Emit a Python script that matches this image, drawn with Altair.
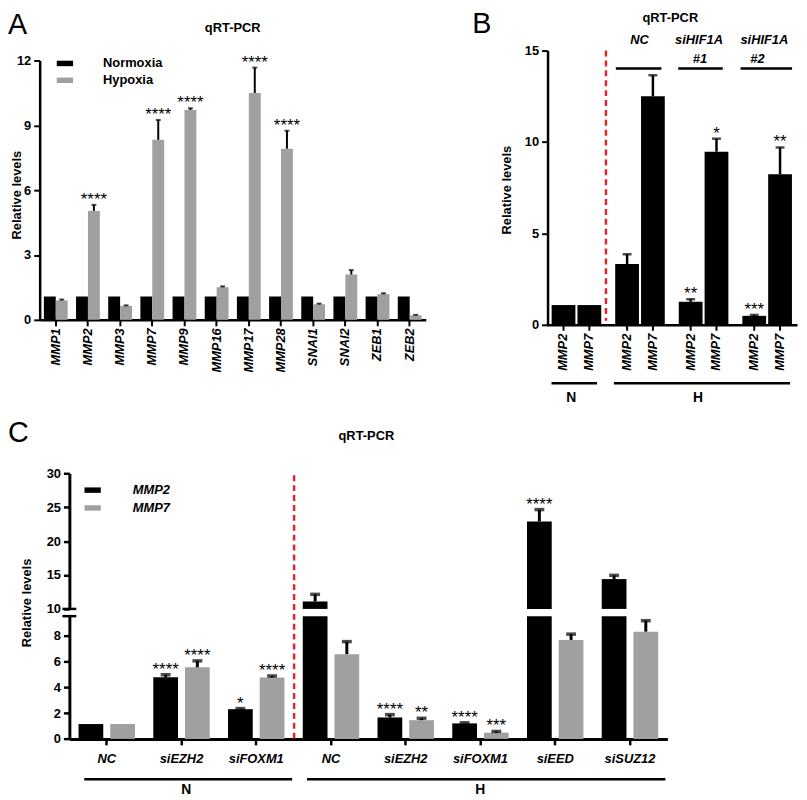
import altair as alt
import pandas as pd

FONT = "Liberation Sans"
BLACK = "#000000"
GRAY = "#a0a0a0"
RED = "#e3262d"
W, H = 799, 792

# ---------------- Panel A data ----------------
a_genes = ["MMP1", "MMP2", "MMP3", "MMP7", "MMP9", "MMP16", "MMP17", "MMP28", "SNAI1", "SNAI2", "ZEB1", "ZEB2"]
a_conditions = ["Normoxia", "Hypoxia"]
a_normoxia = [1.08, 1.08, 1.08, 1.08, 1.08, 1.08, 1.08, 1.08, 1.08, 1.08, 1.08, 1.08]
a_normoxia_err = [0, 0, 0, 0, 0, 0, 0, 0, 0, 0, 0, 0]
a_hypoxia = [0.90, 5.04, 0.64, 8.33, 9.71, 1.51, 10.50, 7.92, 0.72, 2.10, 1.19, 0.21]
a_hypoxia_err = [0.04, 0.28, 0.03, 0.92, 0.08, 0.04, 1.17, 0.83, 0.03, 0.20, 0.04, 0.02]
a_hypoxia_stars = ["", "****", "", "****", "****", "", "****", "****", "", "", "", ""]

# ---------------- Panel B data ----------------
b_groups = ["N", "NC", "siHIF1A #1", "siHIF1A #2"]
b_genes = ["MMP2", "MMP7"]
b_mmp2 = [1.08, 3.32, 1.26, 0.49]
b_mmp2_err = [0, 0.54, 0.14, 0.05]
b_mmp2_stars = ["", "", "**", "***"]
b_mmp7 = [1.08, 12.50, 9.47, 8.23]
b_mmp7_err = [0, 1.15, 0.71, 1.47]
b_mmp7_stars = ["", "", "*", "**"]

# ---------------- Panel C data ----------------
c_conditions = ["N", "N", "N", "H", "H", "H", "H", "H"]
c_sirnas = ["NC", "siEZH2", "siFOXM1", "NC", "siEZH2", "siFOXM1", "siEED", "siSUZ12"]
c_genes = ["MMP2", "MMP7"]
c_mmp2 = [1.15, 4.77, 2.30, 11.10, 1.66, 1.20, 22.90, 14.40]
c_mmp2_err = [0, 0.20, 0.05, 1.05, 0.22, 0.05, 1.75, 0.55]
c_mmp2_stars = ["", "****", "*", "", "****", "****", "****", ""]
c_mmp7 = [1.15, 5.54, 4.75, 6.56, 1.45, 0.48, 7.66, 8.30]
c_mmp7_err = [0, 0.50, 0.12, 0.97, 0.15, 0.10, 0.45, 0.85]
c_mmp7_stars = ["", "****", "****", "", "**", "***", "", ""]

# ---------------- tables ----------------
rows = []
for i, g in enumerate(a_genes):
    rows.append(dict(gene=g, cond="Normoxia", value=a_normoxia[i], err=a_normoxia_err[i], stars=""))
    rows.append(dict(gene=g, cond="Hypoxia", value=a_hypoxia[i], err=a_hypoxia_err[i], stars=a_hypoxia_stars[i]))
dfA = pd.DataFrame(rows)
dfA["top"] = dfA["value"] + dfA["err"]

rows = []
for i, grp in enumerate(b_groups):
    rows.append(dict(group=grp, gene="MMP2", value=b_mmp2[i], err=b_mmp2_err[i], stars=b_mmp2_stars[i]))
    rows.append(dict(group=grp, gene="MMP7", value=b_mmp7[i], err=b_mmp7_err[i], stars=b_mmp7_stars[i]))
dfB = pd.DataFrame(rows)
dfB["top"] = dfB["value"] + dfB["err"]

c_keys = [f"{c}|{s}" for c, s in zip(c_conditions, c_sirnas)]
rows = []
for i, k in enumerate(c_keys):
    rows.append(dict(key=k, gene="MMP2", value=c_mmp2[i], err=c_mmp2_err[i], stars=c_mmp2_stars[i]))
    rows.append(dict(key=k, gene="MMP7", value=c_mmp7[i], err=c_mmp7_err[i], stars=c_mmp7_stars[i]))
dfC = pd.DataFrame(rows)
dfC["top"] = dfC["value"] + dfC["err"]

LBL = 13
STAR = 17


def axis(**kw):
    base = dict(title=None, grid=False, domainColor=BLACK, tickColor=BLACK, labelColor=BLACK,
                labelFont=FONT, labelFontSize=LBL, labelFontWeight="bold")
    base.update(kw)
    return alt.Axis(**base)


RECT = "M-1.5,-0.5H1.5V0.5H-1.5Z"

# ---------------- Panel A ----------------
a_x = alt.X("gene:N", scale=alt.Scale(domain=a_genes, range=[32, 422], paddingInner=0.26, paddingOuter=0.13),
            axis=axis(orient="bottom", offset=311 - H, labelAngle=270, labelFontStyle="italic",
                      tickSize=6, tickWidth=2, domainWidth=2.5, labelPadding=2))
a_xo = alt.XOffset("cond:N", scale=alt.Scale(domain=a_conditions, paddingInner=0, paddingOuter=0))


def a_y(field):
    return alt.Y(f"{field}:Q", scale=alt.Scale(domain=[0, 12], range=[311, 49], nice=False),
                 axis=axis(orient="left", offset=-32, values=[0, 3, 6, 9, 12], tickSize=6, tickWidth=2,
                           domainWidth=2.5, labelPadding=3))


dA = alt.Chart(dfA)
a_bars = dA.mark_bar().encode(
    x=a_x, xOffset=a_xo, y=a_y("value"),
    color=alt.Color("cond:N", scale=alt.Scale(domain=a_conditions, range=[BLACK, GRAY]),
                    legend=alt.Legend(orient="none", legendX=51, legendY=45.5, title=None, direction="vertical",
                                      symbolType=RECT, symbolSize=121, symbolStrokeWidth=0, symbolOpacity=1,
                                      labelFont=FONT, labelFontSize=LBL, labelFontWeight="bold", labelColor=BLACK,
                                      labelOffset=32, rowPadding=3, padding=0)))
a_stem = dA.transform_filter("datum.err > 0").mark_rule(color=BLACK, strokeWidth=2).encode(
    x=a_x, xOffset=a_xo, y=a_y("value"), y2="top:Q")
a_cap = dA.transform_filter("datum.err > 0").mark_tick(orient="horizontal", color=BLACK, size=5, thickness=2).encode(
    x=a_x, xOffset=a_xo, y=a_y("top"))
a_star = dA.transform_filter("datum.stars != ''").mark_text(font=FONT, fontSize=STAR, baseline="alphabetic", dy=0,
                                                            color=BLACK).encode(
    x=a_x, xOffset=a_xo, y=a_y("top"), text="stars:N")
panelA = alt.layer(a_bars, a_stem, a_cap, a_star)

# ---------------- Panel B ----------------
b_x = alt.X("group:N", scale=alt.Scale(domain=b_groups, range=[544, 797], paddingInner=0.22, paddingOuter=0.08),
            axis=axis(orient="bottom", offset=316 - H, labels=False, ticks=False, domainWidth=2.5))
b_xo = alt.XOffset("gene:N", scale=alt.Scale(domain=b_genes, paddingInner=0.08, paddingOuter=0))


def b_y(field):
    return alt.Y(f"{field}:Q", scale=alt.Scale(domain=[0, 15], range=[316, 39], nice=False),
                 axis=axis(orient="left", offset=-545, values=[0, 5, 10, 15], tickSize=6, tickWidth=2,
                           domainWidth=2.5, labelPadding=3))


dB = alt.Chart(dfB)
b_bars = dB.mark_bar(color=BLACK).encode(x=b_x, xOffset=b_xo, y=b_y("value"))
b_stem = dB.transform_filter("datum.err > 0").mark_rule(color=BLACK, strokeWidth=2.5).encode(
    x=b_x, xOffset=b_xo, y=b_y("value"), y2="top:Q")
b_cap = dB.transform_filter("datum.err > 0").mark_tick(orient="horizontal", color=BLACK, size=9, thickness=2.5).encode(
    x=b_x, xOffset=b_xo, y=b_y("top"))
b_star = dB.transform_filter("datum.stars != ''").mark_text(font=FONT, fontSize=STAR, baseline="alphabetic", dy=0,
                                                            color=BLACK).encode(
    x=b_x, xOffset=b_xo, y=b_y("top"), text="stars:N")
b_ticks = dB.mark_rule(color=BLACK, strokeWidth=2).encode(x=b_x, xOffset=b_xo, y=alt.value(316), y2=alt.value(322))
b_labels = dB.mark_text(font=FONT, fontSize=LBL, fontWeight="bold", fontStyle="italic", angle=270, align="right",
                        baseline="middle", color=BLACK).encode(x=b_x, xOffset=b_xo, y=alt.value(325), text="gene:N")
panelB = alt.layer(b_bars, b_stem, b_cap, b_star, b_ticks, b_labels)

# ---------------- Panel C ----------------
c_x = alt.X("key:N", scale=alt.Scale(domain=c_keys, range=[62, 666], paddingInner=0.245, paddingOuter=0.1225),
            axis=axis(orient="bottom", offset=734.3 - H, labelExpr="slice(datum.label, 2)", labelAngle=0,
                      labelFontStyle="italic", tickSize=6, tickWidth=2.5, domainWidth=3, labelPadding=8))
c_xo = alt.XOffset("gene:N", scale=alt.Scale(domain=c_genes, paddingInner=0.22, paddingOuter=0))


def c_ylo(field):
    return alt.Y(f"{field}:Q", scale=alt.Scale(domain=[0, 9.5], range=[734.3, 610.3], nice=False, clamp=True),
                 axis=axis(orient="left", offset=-62, values=[0, 2, 4, 6, 8], tickSize=6, tickWidth=2.5,
                           domainWidth=3, labelPadding=3))


def c_yup(field):
    return alt.Y(f"{field}:Q", scale=alt.Scale(domain=[10, 30], range=[603, 466], nice=False, zero=False),
                 axis=axis(orient="left", offset=-62, values=[10, 15, 20, 25, 30], tickSize=6, tickWidth=2.5,
                           domainWidth=3, labelPadding=3))


dC = alt.Chart(dfC)
low_err = dC.transform_filter("datum.err > 0 && datum.value < 9.5")
c_bars_lo = dC.mark_bar().encode(
    x=c_x, xOffset=c_xo, y=c_ylo("value"),
    color=alt.Color("gene:N", scale=alt.Scale(domain=c_genes, range=[BLACK, GRAY]),
                    legend=alt.Legend(orient="none", legendX=79, legendY=476.5, title=None, direction="vertical",
                                      symbolType=RECT, symbolSize=121, symbolStrokeWidth=0, symbolOpacity=1,
                                      labelFont=FONT, labelFontSize=LBL, labelFontWeight="bold",
                                      labelFontStyle="italic", labelColor=BLACK,
                                      labelOffset=34, rowPadding=4, padding=0)))
c_stem_lo = low_err.mark_rule(color=BLACK, strokeWidth=3).encode(x=c_x, xOffset=c_xo, y=c_ylo("value"), y2="top:Q")
c_cap_lo = low_err.mark_tick(orient="horizontal", color=BLACK, size=10, thickness=3.5).encode(
    x=c_x, xOffset=c_xo, y=c_ylo("top"))
c_star_lo = dC.transform_filter("datum.stars != '' && datum.value < 9.5").mark_text(
    font=FONT, fontSize=STAR, baseline="alphabetic", dy=0, color=BLACK).encode(
    x=c_x, xOffset=c_xo, y=c_ylo("top"), text="stars:N")
lower = alt.layer(c_bars_lo, c_stem_lo, c_cap_lo, c_star_lo)

hi = dC.transform_filter("datum.value > 10")
c_bars_hi = hi.mark_bar(color=BLACK).encode(x=c_x, xOffset=c_xo, y=c_yup("value"), y2=alt.datum(10))
c_stem_hi = hi.mark_rule(color=BLACK, strokeWidth=3).encode(x=c_x, xOffset=c_xo, y=c_yup("value"), y2="top:Q")
c_cap_hi = hi.mark_tick(orient="horizontal", color=BLACK, size=10, thickness=3.5).encode(
    x=c_x, xOffset=c_xo, y=c_yup("top"))
c_star_hi = hi.transform_filter("datum.stars != ''").mark_text(
    font=FONT, fontSize=STAR, baseline="alphabetic", dy=0, color=BLACK).encode(
    x=c_x, xOffset=c_xo, y=c_yup("top"), text="stars:N")
upper = alt.layer(c_bars_hi, c_stem_hi, c_cap_hi, c_star_hi)

panelC = alt.layer(lower, upper).resolve_scale(y="independent")

# ---------------- annotations ----------------
one = pd.DataFrame({"k": [0]})


def txt(s, x, y, size=LBL, weight="bold", style="normal", align="center", baseline="middle", angle=0):
    return alt.Chart(one).mark_text(text=s, font=FONT, fontSize=size, fontWeight=weight, fontStyle=style,
                                    align=align, baseline=baseline, angle=angle, color=BLACK).encode(
        x=alt.value(x), y=alt.value(y))


def hline(x1, x2, y, w=2.5):
    return alt.Chart(one).mark_rule(color=BLACK, strokeWidth=w).encode(x=alt.value(x1), x2=alt.value(x2),
                                                                       y=alt.value(y))


def vdash(x, y1, y2):
    return alt.Chart(one).mark_rule(color=RED, strokeWidth=2.5, strokeDash=[6, 4]).encode(
        x=alt.value(x), y=alt.value(y1), y2=alt.value(y2))


ann = [
    txt("A", 0, 22, size=29, weight="normal", align="left", baseline="alphabetic"),
    txt("B", 469, 21, size=29, weight="normal", align="left", baseline="alphabetic"),
    txt("C", 0, 434, size=29, weight="normal", align="left", baseline="alphabetic"),
    txt("qRT-PCR", 227, 20, size=13, baseline="alphabetic"),
    txt("qRT-PCR", 669, 10, size=13, baseline="alphabetic"),
    txt("qRT-PCR", 362, 432, size=13, baseline="alphabetic"),
    txt("Relative levels", 9, 185, size=13, angle=270),
    txt("Relative levels", 504, 180, size=13, angle=270),
    txt("Relative levels", 19, 597, size=13, angle=270),
    # panel B annotations
    vdash(604, 39, 312),
    txt("NC", 638, 28, style="italic"),
    txt("siHIF1A", 698, 28, style="italic"),
    txt("siHIF1A", 764, 28, style="italic"),
    txt("#1", 699, 48, style="italic"),
    txt("#2", 757, 48, style="italic"),
    hline(614, 660, 57), hline(677, 722, 57), hline(740, 792, 57),
    hline(549, 595, 375), hline(612, 790, 375),
    txt("N", 569, 389.5, size=14),
    txt("H", 697, 389.5, size=14),
    # panel C annotations
    vdash(289, 468, 734),
    hline(55, 69, 603), hline(55, 69, 610.3),
    hline(77, 287, 775), hline(302, 664, 775),
    txt("N", 180, 786, size=14),
    txt("H", 477, 786, size=14),
]

chart = alt.layer(panelA, panelB, panelC, *ann).resolve_scale(
    x="independent", y="independent", xOffset="independent", color="independent"
).properties(
    width=W, height=H, autosize=alt.AutoSizeParams(type="none"), padding=0
).configure_view(stroke=None)

chart.save("out.html", embed_options={"renderer": "svg", "actions": False})
